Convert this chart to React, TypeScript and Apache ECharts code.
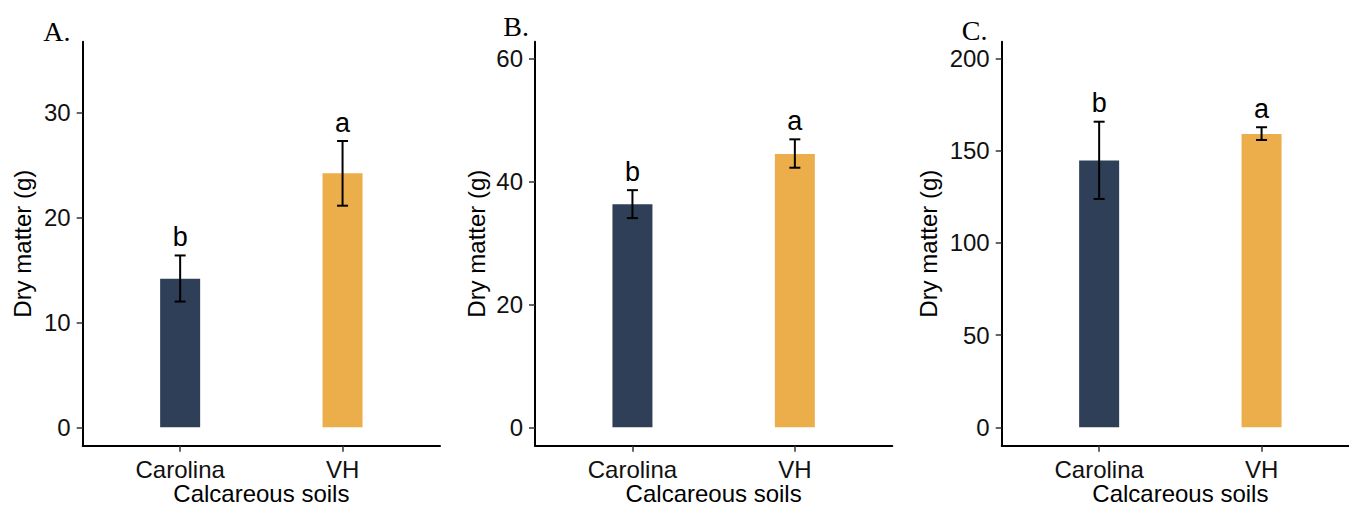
import { useEffect, useRef } from 'react';
import * as echarts from 'echarts';

const categories = ['Carolina', 'VH'];
const barColors = ['#2E3F57', '#ECAE4A'];
const panelLetters = ['A.', 'B.', 'C.'];

const meanA = [14.14, 24.19];
const lowA = [11.98, 21.11];
const highA = [16.37, 27.27];
const lettersA = ['b', 'a'];

const meanB = [36.3, 44.5];
const lowB = [34.05, 42.25];
const highB = [38.6, 46.87];
const lettersB = ['b', 'a'];

const meanC = [144.8, 159.1];
const lowC = [123.9, 155.9];
const highC = [165.8, 162.8];
const lettersC = ['b', 'a'];

const ticksA = [0, 10, 20, 30];
const ticksB = [0, 20, 40, 60];
const ticksC = [0, 50, 100, 150, 200];

const yMins = [-1.75, -2.99, -9.96];
const yMaxs = [36.73, 62.76, 209.2];

const xTitle = 'Calcareous soils';
const yTitle = 'Dry matter (g)';

const SANS = "'Liberation Sans', Arial, Helvetica, sans-serif";
const SERIF = "'Liberation Serif', 'Times New Roman', serif";

const panels = [
  { mean: meanA, low: lowA, high: highA, letters: lettersA, ticks: ticksA },
  { mean: meanB, low: lowB, high: highB, letters: lettersB, ticks: ticksB },
  { mean: meanC, low: lowC, high: highC, letters: lettersC, ticks: ticksC },
];

// layout
const gridLefts = [82.7, 535, 1001.7];
const gridTop = 41.7;
const gridWidth = 357.3;
const gridHeight = 404;
const yNameGaps = [48.5, 47, 61.7];
const letterPos = [
  { x: 43.3, y: 31 },
  { x: 503.3, y: 26 },
  { x: 961.7, y: 30.3 },
];

function buildOption() {
  const grid: any[] = [];
  const xAxis: any[] = [];
  const yAxis: any[] = [];
  const series: any[] = [];
  const graphic: any[] = [];

  panels.forEach((p, i) => {
    grid.push({
      left: gridLefts[i],
      top: gridTop,
      width: gridWidth,
      height: gridHeight,
      containLabel: false,
      outerBoundsMode: 'none',
    });
    xAxis.push({
      type: 'value',
      gridIndex: i,
      min: 0.4,
      max: 2.6,
      axisLine: { show: true, onZero: false, lineStyle: { color: '#000', width: 2 } },
      axisTick: { show: true, customValues: [1, 2], length: 6, lineStyle: { color: '#333', width: 1.5 } },
      axisLabel: {
        customValues: [1, 2],
        formatter: (v: number) => categories[Math.round(v) - 1] ?? '',
        fontSize: 24,
        color: '#111',
        margin: 12,
        fontFamily: SANS,
      },
      splitLine: { show: false },
      name: xTitle,
      nameLocation: 'middle',
      nameGap: 36,
      nameMoveOverlap: false,
      nameTextStyle: { fontSize: 24, color: '#000', fontFamily: SANS },
    });
    yAxis.push({
      type: 'value',
      gridIndex: i,
      min: yMins[i],
      max: yMaxs[i],
      axisLine: { show: true, onZero: false, lineStyle: { color: '#000', width: 2 } },
      axisTick: { show: true, customValues: p.ticks, length: 6, lineStyle: { color: '#333', width: 1.5 } },
      axisLabel: {
        customValues: p.ticks,
        fontSize: 24,
        color: '#111',
        margin: 12,
        fontFamily: SANS,
      },
      splitLine: { show: false },
      name: yTitle,
      nameLocation: 'middle',
      nameGap: yNameGaps[i],
      nameMoveOverlap: false,
      nameRotate: 90,
      nameTextStyle: { fontSize: 24, color: '#000', fontFamily: SANS },
    });
    series.push({
      type: 'bar',
      xAxisIndex: i,
      yAxisIndex: i,
      barWidth: 40,
      data: categories.map((_, j) => ({ value: [j + 1, p.mean[j]], itemStyle: { color: barColors[j] } })),
    });
    series.push({
      type: 'custom',
      xAxisIndex: i,
      yAxisIndex: i,
      z: 10,
      encode: { x: 0, y: [1, 2] },
      data: categories.map((_, j) => [j + 1, p.low[j], p.high[j], j]),
      renderItem: (_params: any, api: any) => {
        const x = api.value(0);
        const lo = api.coord([x, api.value(1)]);
        const hi = api.coord([x, api.value(2)]);
        const j = api.value(3);
        const cap = 5.5;
        const st = { stroke: '#000', lineWidth: 2 };
        return {
          type: 'group',
          children: [
            { type: 'line', shape: { x1: hi[0], y1: hi[1], x2: lo[0], y2: lo[1] }, style: st },
            { type: 'line', shape: { x1: hi[0] - cap, y1: hi[1], x2: hi[0] + cap, y2: hi[1] }, style: st },
            { type: 'line', shape: { x1: lo[0] - cap, y1: lo[1], x2: lo[0] + cap, y2: lo[1] }, style: st },
            {
              type: 'text',
              x: hi[0],
              y: hi[1] - 18.5,
              style: {
                text: p.letters[j],
                fontSize: 27,
                fontFamily: SANS,
                fill: '#000',
                align: 'center',
                verticalAlign: 'middle',
              },
            },
          ],
        };
      },
    });
    graphic.push({
      type: 'text',
      x: letterPos[i].x,
      y: letterPos[i].y,
      style: {
        text: panelLetters[i],
        fontSize: 28,
        fontFamily: SERIF,
        fill: '#000',
        align: 'left',
        verticalAlign: 'middle',
      },
    });
  });

  return { animation: false, backgroundColor: '#fff', grid, xAxis, yAxis, series, graphic };
}

export default function App() {
  const ref = useRef<HTMLDivElement>(null);
  useEffect(() => {
    const chart = echarts.init(ref.current!, null, { renderer: 'svg' });
    chart.setOption(buildOption() as any);
    return () => chart.dispose();
  }, []);
  return <div ref={ref} style={{ position: 'fixed', left: 0, top: 0, width: 1349, height: 506 }} />;
}
